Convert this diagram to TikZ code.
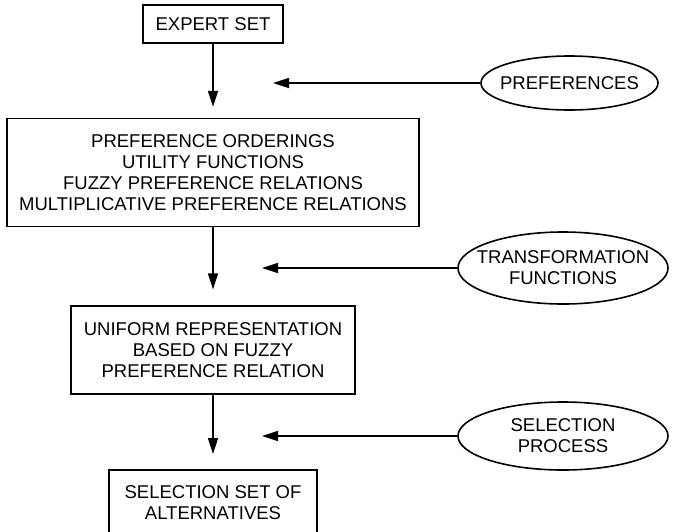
\documentclass[tikz,border=0pt]{standalone}
\usepackage{fontspec}
\setmainfont{Liberation Sans}
\usetikzlibrary{arrows.meta,positioning,shapes.geometric}

\begin{document}
\begin{tikzpicture}[
  x=1pt, y=1pt,
  every node/.style={font=\fontsize{18.5}{21}\selectfont},
  box/.style={draw, line width=1.6pt, align=center, inner sep=4pt},
  oval/.style={draw, ellipse, line width=1.6pt, align=center, inner xsep=-16pt, inner ysep=0pt},
  arr/.style={-{Triangle[length=16pt,width=10pt]}, line width=1.6pt}
]
\useasboundingbox (0,0) rectangle (674,-531);
\node[box, minimum width=140pt, minimum height=38pt] (expert) at (213,-24) {EXPERT SET};
\node[box, below=74pt of expert, minimum width=412pt, minimum height=108pt] (forms) {PREFERENCE ORDERINGS\\UTILITY FUNCTIONS\\FUZZY PREFERENCE RELATIONS\\MULTIPLICATIVE PREFERENCE RELATIONS};
\node[box, below=78pt of forms, minimum width=284pt, minimum height=88pt] (uniform) {UNIFORM REPRESENTATION\\BASED ON FUZZY\\PREFERENCE RELATION};
\node[box, below=74pt of uniform, minimum width=208pt, minimum height=65pt] (select) {SELECTION SET OF\\ALTERNATIVES};
\node[oval, minimum width=177pt, minimum height=54pt] (prefs) at (569.5,-83) {PREFERENCES};
\node[oval, minimum width=210pt, minimum height=72pt] (transf) at (563,-268) {TRANSFORMATION\\FUNCTIONS};
\node[oval, minimum width=210pt, minimum height=68pt] (process) at (563,-436) {SELECTION\\PROCESS};

\draw[arr] (expert) -- ([yshift=11pt]forms.north);
\draw[arr] (forms) -- ([yshift=16pt]uniform.north);
\draw[arr] (uniform) -- ([yshift=15pt]select.north);
\draw[arr] (prefs) -- ([xshift=60pt]prefs -| expert);
\draw[arr] (transf) -- ([xshift=49pt]transf -| expert);
\draw[arr] (process) -- ([xshift=49pt]process -| expert);
\end{tikzpicture}
\end{document}
